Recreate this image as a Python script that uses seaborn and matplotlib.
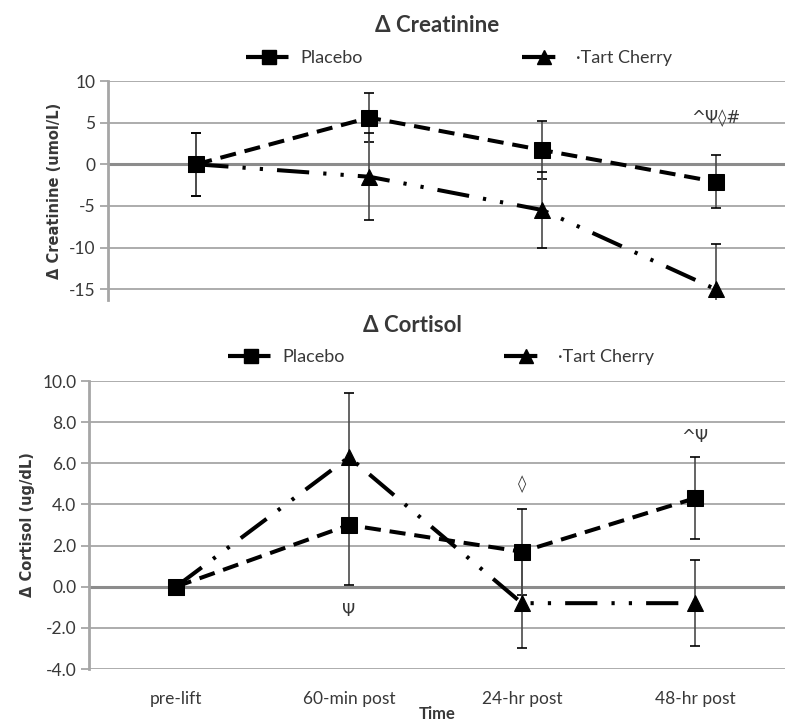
import numpy as np
import pandas as pd
import matplotlib
matplotlib.use("Agg")
import matplotlib.pyplot as plt
import seaborn as sns
from matplotlib.lines import Line2D

# ---------------- data ----------------
time_labels = ["pre-lift", "60-min post", "24-hr post", "48-hr post"]
groups = ["Placebo", "Tart Cherry"]

creat_placebo = [0.0, 5.6, 1.7, -2.1]
creat_placebo_err = [3.8, 2.9, 3.5, 3.2]
creat_cherry = [0.0, -1.5, -5.5, -15.0]
creat_cherry_err = [3.8, 5.2, 4.6, 5.4]

cort_placebo = [0.0, 3.0, 1.7, 4.3]
cort_placebo_err = [0.3, 2.9, 2.1, 2.0]
cort_cherry = [0.0, 6.3, -0.8, -0.8]
cort_cherry_err = [0.3, 3.1, 2.2, 2.1]

creat_notes = [(3, 5.5, "^\u03a8\u25ca#")]
cort_notes = [(1, -1.2, "\u03a8"), (2, 5.0, "\u25ca"), (3, 7.3, "^\u03a8")]

# ---------------- style ----------------
sns.set_theme(style="white")
plt.rcParams['font.family'] = ['Lato', 'DejaVu Sans']

W, H = 785, 722
fig = plt.figure(figsize=(W / 100, H / 100), dpi=100)

def frac(x0, y0, x1, y1):
    return [x0 / W, 1 - y1 / H, (x1 - x0) / W, (y1 - y0) / H]

dash_map = {"Placebo": (4, 2.2), "Tart Cherry": (8, 3.5, 0.8, 3.5, 0.8, 3.5)}
marker_map = {"Placebo": "s", "Tart Cherry": "^"}
grid_c = "#a6a6a6"
err_c = "#4a4a4a"
txt_c = "#383838"


def panel(rect, xlim, ylim, yticks, yfmt, p, pe, c, ce, ylabel, title, title_x, title_y,
          leg_x, leg_y, notes, show_x):
    ax = fig.add_axes(rect)
    df = pd.DataFrame({
        "t": list(range(4)) * 2,
        "v": list(p) + list(c),
        "g": ["Placebo"] * 4 + ["Tart Cherry"] * 4,
    })
    for g, vals, errs in [("Placebo", p, pe), ("Tart Cherry", c, ce)]:
        ax.errorbar(range(4), vals, yerr=errs, fmt="none", ecolor=err_c,
                    elinewidth=1.2, capsize=3.5, capthick=1.2, zorder=2)
    sns.lineplot(data=df, x="t", y="v", hue="g", style="g", ax=ax,
                 palette={"Placebo": "black", "Tart Cherry": "black"},
                 dashes=dash_map, markers=marker_map, markersize=12,
                 linewidth=2.9, legend=False, zorder=3)
    for line in ax.lines:
        line.set_markeredgecolor("black")
    ax.set_xlim(*xlim)
    ax.set_ylim(*ylim)
    ax.set_yticks(yticks)
    ax.set_yticklabels([yfmt.format(v) for v in yticks], fontsize=12.5, color=txt_c)
    ax.yaxis.grid(True, color=grid_c, linewidth=1.3)
    ax.set_axisbelow(True)
    ax.axhline(0, color="#8c8c8c", linewidth=2.2, zorder=1)
    for s in ["top", "right", "bottom"]:
        ax.spines[s].set_visible(False)
    ax.spines["left"].set_color(grid_c)
    ax.spines["left"].set_linewidth(2)
    ax.tick_params(axis="y", left=True, length=6, width=1.3, color=grid_c, pad=3)
    ax.set_ylabel(ylabel, fontsize=10.5, fontweight="bold", family="DejaVu Sans",
                  labelpad=5, color=txt_c)
    if show_x:
        ax.set_xticks(range(4))
        ax.set_xticklabels(time_labels, fontsize=12.5, color=txt_c)
        ax.tick_params(axis="x", bottom=False, pad=10)
        ax.set_xlabel("")
        fig.text(437 / W, 1 - 714 / H, "Time", ha="center", va="center",
                 fontsize=12, fontweight="bold", color=txt_c)
    else:
        ax.set_xticks([])
        ax.set_xlabel("")
    for x, y, s in notes:
        ax.text(x, y, s, ha="center", va="center", fontsize=12, color=txt_c,
                family=["DejaVu Sans"])
    fig.text(title_x / W, 1 - title_y / H, title, ha="center", va="center",
             fontsize=16, fontweight="bold", color=txt_c)
    handles = [Line2D([], [], color="black", linewidth=3, dashes=dash_map[g],
                      marker=marker_map[g], markersize=10) for g in groups]
    fig.legend(handles, ["Placebo", "\u00b7Tart Cherry"], loc="center",
               bbox_to_anchor=(leg_x / W, 1 - leg_y / H), ncol=2,
               frameon=False, fontsize=13, handlelength=2.5, handletextpad=0.5,
               columnspacing=8.8, labelcolor=txt_c)
    return ax


panel(frac(108, 81, 790, 300), (-0.51, 3.43), (-16.3, 10), [-15, -10, -5, 0, 5, 10], "{:.0f}",
      creat_placebo, creat_placebo_err, creat_cherry, creat_cherry_err,
      "\u0394 Creatinine (umol/L)", "\u0394 Creatinine", 437, 26, 459, 58, creat_notes, False)

panel(frac(89, 381, 790, 669), (-0.503, 3.55), (-4, 10), [-4, -2, 0, 2, 4, 6, 8, 10], "{:.1f}",
      cort_placebo, cort_placebo_err, cort_cherry, cort_cherry_err,
      "\u0394 Cortisol (ug/dL)", "\u0394 Cortisol", 412, 325, 441, 357, cort_notes, True)

fig.savefig("out.png", dpi=100)
